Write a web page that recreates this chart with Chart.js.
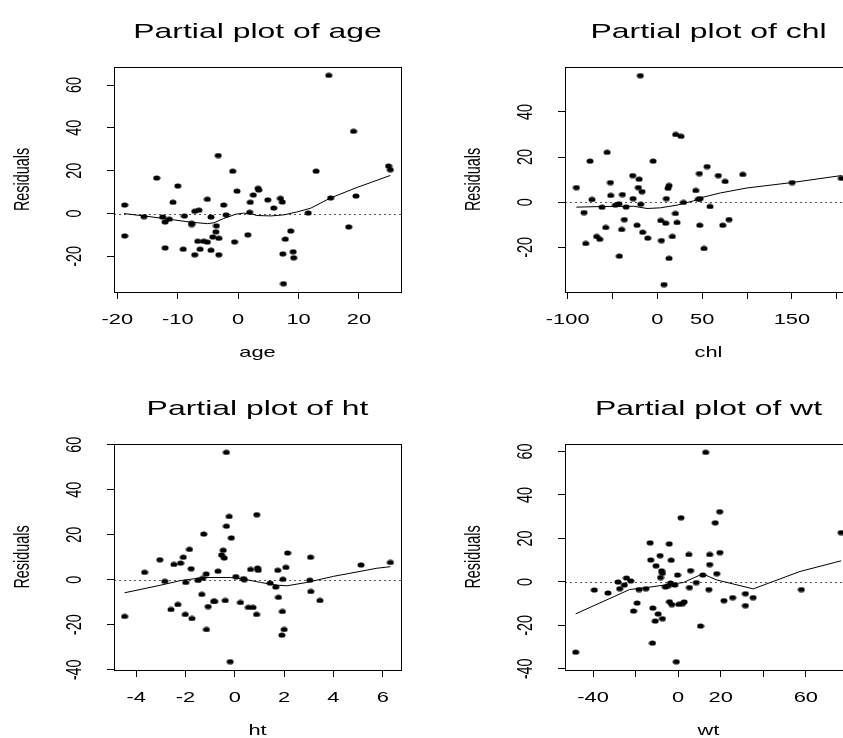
<!DOCTYPE html>
<html>
<head>
<meta charset="utf-8">
<script src="https://cdn.jsdelivr.net/npm/chart.js@4.4.1/dist/chart.umd.min.js"></script>
<style>
  html, body { margin: 0; padding: 0; background: #fff; }
  #page { position: relative; width: 843px; height: 738px; overflow: hidden; background: #fff; }
  canvas { position: absolute; }
  #c1 { left: 0; top: 0; }
  #c2 { left: 430px; top: 0; }
  #c3 { left: 0; top: 369px; }
  #c4 { left: 430px; top: 369px; }
</style>
</head>
<body>
<div id="page">
  <canvas id="c1" width="430" height="369"></canvas>
  <canvas id="c2" width="450" height="369"></canvas>
  <canvas id="c3" width="430" height="369"></canvas>
  <canvas id="c4" width="450" height="369"></canvas>
</div>
<script>
// --- age panel ---
const ageX = [-18.8,-18.8,-15.6,-13.5,-12.5,-12.1,-12.1,-11.4,-10.8,-10.0,-9.1,-8.9,-7.7,-7.7,-7.2,-7.2,-6.5,-6.7,-6.3,-5.7,-5.1,-5.1,-4.5,-4.5,-4.2,-3.7,-3.6,-3.3,-3.2,-3.2,-2.4,-2.0,-0.9,-0.6,-0.2,1.6,1.9,2.0,2.5,3.3,3.4,4.9,5.9,7.0,7.3,7.4,7.8,7.5,8.7,9.1,9.2,11.6,12.9,15.0,15.3,18.3,19.1,19.5,24.9,25.2];
const ageY = [4.0,-10.4,-1.4,16.6,-1.6,-3.9,-16.0,-2.6,5.3,12.9,-16.6,-1.1,-4.5,-5.1,-19.2,1.1,1.6,-12.9,-16.6,-12.9,-13.3,6.7,-1.6,-17.1,-10.9,-8.5,-5.7,27.1,-11.5,-19.2,4.0,-0.6,19.8,-13.2,10.5,-9.9,0.6,5.3,8.7,11.8,11.0,6.4,2.6,7.1,5.4,-18.8,-11.9,-32.7,-8.1,-17.8,-20.6,0.3,19.8,64.5,7.3,-6.2,38.4,8.2,22.2,20.5];
const ageFitX = [-18.9,-15.6,-12.3,-7.9,-5.1,-4.0,-2.4,-0.4,0.9,2.0,3.1,5.4,7.6,9.8,12.0,15.3,19.7,25.2];
const ageFitY = [0,-1.1,-2.3,-4.0,-4.7,-4.3,-2.3,-0.3,0.2,0,-0.9,-1.1,-0.6,0.8,2.5,7.3,12.2,17.8];
const ageTicks = [-20,-10,0,10,20];
const ageTickLabels = ['-20','-10','0','10','20'];

// --- chl panel ---
const chlX = [-90.3,-81.8,-79.9,-75.1,-72.9,-67.7,-64.3,-61.7,-57.6,-56.1,-52.4,-52.0,-46.8,-42.8,-42.4,-39.8,-39.0,-36.8,-34.9,-27.5,-27.1,-22.7,-21.2,-20.4,-19.0,-18.6,-17.1,-16.4,-10.8,-4.8,3.7,4.5,7.4,9.3,10.0,11.9,13.0,13.0,16.7,20.1,20.4,21.9,26.4,29.0,42.8,45.7,46.8,47.2,47.6,52.0,55.4,58.7,68.0,72.9,75.5,79.9,95.2,150.2,205.2];
const chlY = [6.5,-4.6,-18.3,18.2,1.2,-15.2,-16.4,-2.2,-11.2,22.1,8.7,3.0,-1.3,-0.7,-23.9,-12.1,3.4,-7.7,-2.1,11.8,1.6,-10.2,6.5,10.2,56.1,-0.9,4.7,-13.3,-15.9,18.2,-8.1,-17.0,-36.5,-9.3,1.6,6.2,7.4,-24.9,-15.2,-5.0,30.0,-9.0,29.2,-0.1,5.2,1.3,12.7,-10.2,1.6,-20.5,15.8,-1.9,11.8,-10.2,9.2,-7.7,12.3,8.7,10.6];
const chlFitX = [-90.3,-59.9,-26.4,-11.5,3.3,21.9,40.5,49.8,70.3,100,150.2,205.2];
const chlFitY = [-2.2,-1.9,-1.8,-2.8,-2.5,-1.3,0.6,2.1,4.1,6.3,8.7,11.8];
const chlTicks = [-100,-50,0,50,100,150,200];
const chlTickLabels = ['-100','','0','50','','150',''];

// --- ht panel ---
const htX = [-4.47,-3.66,-3.04,-2.84,-2.59,-2.47,-2.31,-2.20,-2.09,-2.01,-1.99,-1.84,-1.77,-1.74,-1.49,-1.34,-1.31,-1.26,-1.16,-1.15,-1.08,-0.86,-0.82,-0.68,-0.54,-0.47,-0.43,-0.39,-0.34,-0.34,-0.23,-0.19,-0.14,0.04,0.23,0.35,0.39,0.55,0.64,0.74,0.88,0.89,0.92,0.95,1.43,1.66,1.74,1.77,1.91,1.93,1.95,2.0,2.07,2.14,3.04,3.07,3.08,3.45,5.12,6.31];
const htY = [-16.3,3.3,8.9,-0.7,-13.2,6.8,-11.0,7.4,10.0,-15.4,-1.2,13.5,4.9,-17.2,-0.3,-6.5,0.6,20.3,2.6,-22.1,-11.9,-9.6,-9.6,3.8,11.0,13.1,9.7,-9.2,23.8,56.6,28.1,-36.4,18.6,1.4,-10.1,0.5,0.1,-12.3,4.6,-12.3,-15.4,28.9,5.2,4.2,-1.5,-3.2,4.2,-7.8,-24.6,-14.1,0.2,-22.1,5.5,11.9,-0.2,10.0,-5.2,-9.2,6.6,7.7];
const htFitX = [-4.47,-3.0,-2.21,-1.26,-0.18,0.36,1.04,1.71,2.11,2.92,4.0,5.76,6.31];
const htFitY = [-5.8,-2.4,-0.4,1.0,1.0,0.3,-1.2,-2.4,-2.7,-1.2,1.5,5.1,5.8];
const htTicks = [-4,-2,0,2,4,6];
const htTickLabels = ['-4','-2','0','2','4','6'];

// --- wt panel ---
const wtX = [-48.2,-39.4,-33.0,-28.3,-27.5,-25.3,-24.3,-22.3,-21.0,-19.3,-18.4,-15.2,-13.2,-12.9,-12.1,-11.9,-10.8,-10.4,-9.4,-8.5,-8.3,-7.8,-7.4,-7.4,-6.0,-4.6,-4.2,-4.1,-3.6,-3.3,-3.0,-1.6,-0.9,-0.3,0.3,1.3,2.0,2.8,5.0,5.3,5.8,8.5,10.5,11.6,12.9,14.4,14.8,14.8,17.4,18.1,19.5,19.6,21.5,25.6,31.6,31.6,35.2,57.9,76.6];
const wtY = [-32.3,-3.7,-5.1,0,-3.1,-1.4,1.8,0.5,-13.4,-9.7,-3.5,-3.1,18.0,10.1,-28.1,-12.0,-18.0,7.4,-14.7,12.1,2.0,5.1,4.0,-16.9,-2.3,-1.7,17.5,-9.1,-0.5,10.0,-10.4,-1.4,-36.7,3.2,-10.3,29.5,-10.0,-9.2,12.6,-2.6,5.2,-0.3,-20.3,3.2,59.6,-3.5,8.0,12.6,27.2,3.8,32.3,13.5,-8.6,-7.2,-5.4,-10.9,-7.2,-3.5,22.7];
const wtFitX = [-48.2,-22.8,-14.9,-2.4,2.4,11.5,18.1,35.3,57.3,76.6];
const wtFitY = [-14.7,-3.5,-2.6,-0.9,-0.3,3.7,0.9,-3.2,4.8,9.7];
const wtTicks = [-40,-20,0,20,40,60];
const wtTickLabels = ['-40','','0','20','','60'];

const yTicksAll = [-40,-20,0,20,40,60];

// R output is stretched horizontally; mimic that for text
const SX = 1.52;
const FONT = '"Liberation Sans", Arial, Helvetica, sans-serif';

function hText(ctx, s, x, y, size) {
  ctx.save();
  ctx.translate(x, y);
  ctx.scale(SX, 1);
  ctx.font = size + 'px ' + FONT;
  ctx.textAlign = 'center';
  ctx.textBaseline = 'alphabetic';
  ctx.fillStyle = '#000';
  ctx.fillText(s, 0, 0);
  ctx.restore();
}

function vText(ctx, s, x, y, size) {
  ctx.save();
  ctx.translate(x, y);
  ctx.scale(SX, 1);
  ctx.rotate(-Math.PI / 2);
  ctx.font = size + 'px ' + FONT;
  ctx.textAlign = 'center';
  ctx.textBaseline = 'alphabetic';
  ctx.fillStyle = '#000';
  ctx.fillText(s, 0, 0);
  ctx.restore();
}

// elliptical dot, as in the stretched R picture
const dot = document.createElement('canvas');
dot.width = 8; dot.height = 6;
(() => {
  const g = dot.getContext('2d');
  g.fillStyle = '#000';
  g.beginPath();
  g.ellipse(4, 3, 3.5, 2.6, 0, 0, Math.PI * 2);
  g.fill();
})();

const panelDecor = {
  id: 'panelDecor',
  beforeDatasetsDraw(chart, args, o) {
    const { ctx, chartArea: a } = chart;
    const y0 = Math.round(chart.scales.y.getPixelForValue(0)) + 0.5;
    ctx.save();
    ctx.strokeStyle = '#555';
    ctx.lineWidth = 1;
    ctx.setLineDash([2, 3]);
    ctx.beginPath();
    ctx.moveTo(a.left, y0);
    ctx.lineTo(a.right, y0);
    ctx.stroke();
    ctx.restore();
  },
  afterDraw(chart, args, o) {
    const { ctx, chartArea: a } = chart;
    const xs = chart.scales.x, ys = chart.scales.y;
    // box
    ctx.save();
    ctx.strokeStyle = '#000';
    ctx.lineWidth = 1;
    ctx.strokeRect(a.left + 0.5, a.top + 0.5, a.right - a.left, a.bottom - a.top);
    ctx.restore();
    // title
    hText(ctx, o.title, (a.left + a.right) / 2, a.top - 29, 21);
    // x tick labels
    o.xTicks.forEach((v, i) => {
      if (o.xLabels[i]) hText(ctx, o.xLabels[i], xs.getPixelForValue(v), a.bottom + 32, 14.4);
    });
    hText(ctx, o.xTitle, (a.left + a.right) / 2, a.bottom + 65, 14.4);
    // y tick labels (rotated, as R draws them)
    ys.ticks.forEach(t => {
      vText(ctx, String(t.value), a.left - 33.5, ys.getPixelForValue(t.value), 14.4);
    });
    vText(ctx, 'Residuals', a.left - 85, (a.top + a.bottom) / 2, 14.4);
  }
};

function makePanel(id, p) {
  const pts = p.xs.map((x, i) => ({ x: x, y: p.ys[i] }));
  const fit = p.fx.map((x, i) => ({ x: x, y: p.fy[i] }));
  new Chart(document.getElementById(id), {
    type: 'scatter',
    data: {
      datasets: [
        { data: pts, pointStyle: dot, pointRadius: 4, backgroundColor: '#000', borderWidth: 0 },
        { data: fit, showLine: true, pointRadius: 0, borderColor: '#000', borderWidth: 1, fill: false, tension: 0 }
      ]
    },
    options: {
      responsive: false,
      animation: false,
      devicePixelRatio: 1,
      events: [],
      layout: { autoPadding: false, padding: { left: 0, top: p.top, right: p.right, bottom: 0 } },
      plugins: {
        legend: { display: false },
        tooltip: { enabled: false },
        panelDecor: { title: p.title, xTitle: p.xTitle, xTicks: p.xTicks, xLabels: p.xLabels }
      },
      scales: {
        x: {
          type: 'linear', min: p.xMin, max: p.xMax,
          afterBuildTicks: s => { s.ticks = p.xTicks.map(v => ({ value: v })); },
          afterFit: s => { s.height = p.xH; },
          ticks: { display: false },
          grid: { drawOnChartArea: false, drawTicks: true, tickLength: 7, color: '#000' },
          border: { display: true, color: '#000' }
        },
        y: {
          type: 'linear', min: p.yMin, max: p.yMax,
          afterBuildTicks: s => { s.ticks = yTicksAll.filter(v => v >= p.yMin && v <= p.yMax).map(v => ({ value: v })); },
          afterFit: s => { s.width = p.yW; },
          ticks: { display: false },
          grid: { drawOnChartArea: false, drawTicks: true, tickLength: 7, color: '#000' },
          border: { display: true, color: '#000' }
        }
      }
    },
    plugins: [panelDecor]
  });
}

makePanel('c1', { xs: ageX, ys: ageY, fx: ageFitX, fy: ageFitY, title: 'Partial plot of age', xTitle: 'age',
  xTicks: ageTicks, xLabels: ageTickLabels, xMin: -20.56, xMax: 26.96, yMin: -36.6, yMax: 68.4,
  top: 67, right: 29, xH: 77, yW: 114 });
makePanel('c2', { xs: chlX, ys: chlY, fx: chlFitX, fy: chlFitY, title: 'Partial plot of chl', xTitle: 'chl',
  xTicks: chlTicks, xLabels: chlTickLabels, xMin: -103, xMax: 217, yMin: -39.8, yMax: 59.9,
  top: 67, right: 28, xH: 77, yW: 135 });
makePanel('c3', { xs: htX, ys: htY, fx: htFitX, fy: htFitY, title: 'Partial plot of ht', xTitle: 'ht',
  xTicks: htTicks, xLabels: htTickLabels, xMin: -4.9, xMax: 6.74, yMin: -40.1, yMax: 60.3,
  top: 75, right: 29, xH: 68, yW: 114 });
makePanel('c4', { xs: wtX, ys: wtY, fx: wtFitX, fy: wtFitY, title: 'Partial plot of wt', xTitle: 'wt',
  xTicks: wtTicks, xLabels: wtTickLabels, xMin: -53.2, xMax: 81.7, yMin: -40.5, yMax: 63.4,
  top: 75, right: 28, xH: 68, yW: 135 });
</script>
</body>
</html>
